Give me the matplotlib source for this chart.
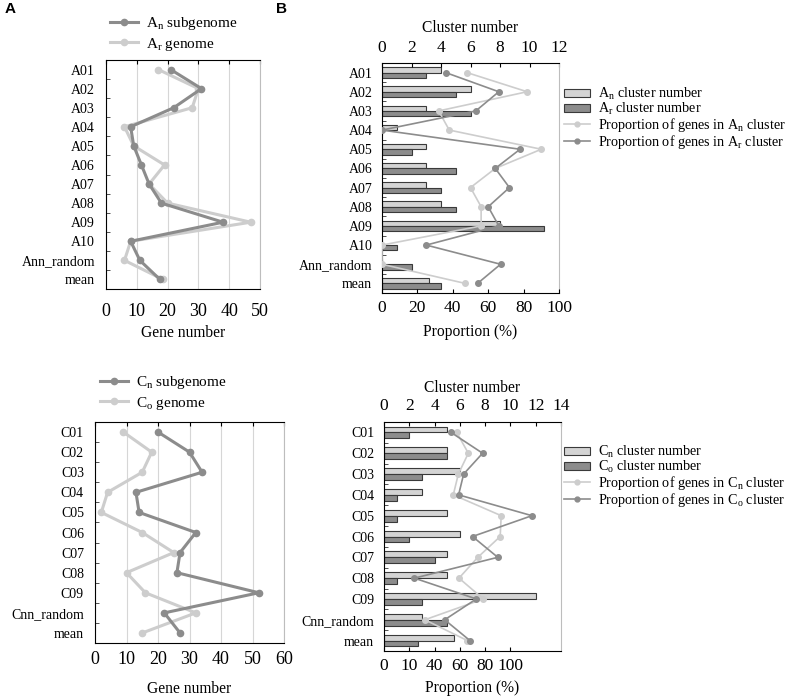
import numpy as np
import matplotlib
matplotlib.use('Agg')
import matplotlib.pyplot as plt
from matplotlib.patches import Patch
from matplotlib.lines import Line2D

plt.rcParams['font.family'] = ['Liberation Serif', 'DejaVu Serif']
plt.rcParams['mathtext.fontset'] = 'custom'
plt.rcParams['mathtext.rm'] = 'Liberation Serif'
plt.rcParams['mathtext.it'] = 'Liberation Serif:italic'

# ---- data ----
a_labels = ['A01', 'A02', 'A03', 'A04', 'A05', 'A06', 'A07', 'A08', 'A09', 'A10', 'Ann_random', 'mean']
an_genes = [21, 31, 22, 8, 9, 11.5, 14, 18, 38, 8, 11, 17.5]
ar_genes = [17, 30, 28, 6, 9, 19, 14, 20, 47, 8, 6, 18.5]
an_clusters = [4, 6, 3, 1, 3, 3, 3, 4, 8, 0, 0, 3.2]
ar_clusters = [3, 5, 6, 0, 2, 5, 4, 5, 11, 1, 2, 4]
an_prop = [48, 82, 32, 38, 90, 64, 50, 56, 56, 0, 0, 47]
ar_prop = [36, 66, 53, 0, 78, 64, 72, 60, 66, 25, 67, 54]

c_labels = ['C01', 'C02', 'C03', 'C04', 'C05', 'C06', 'C07', 'C08', 'C09', 'Cnn_random', 'mean']
cn_genes = [20, 30, 34, 13, 14, 32, 27, 26, 52, 22, 27]
co_genes = [9, 18, 15, 4, 2, 15, 25, 10, 16, 32, 15]
cn_clusters = [5, 5, 6, 3, 5, 6, 5, 5, 12, 3, 5.5]
co_clusters = [2, 5, 3, 1, 1, 2, 4, 1, 3, 5, 2.7]
cn_prop = [57.5, 66.7, 58.8, 54.8, 92.7, 91.9, 74.2, 59.3, 78.6, 32.3, 66]
co_prop = [53, 78, 63, 59, 117, 70, 90, 24, 73, 48, 68]

DARK = '#8c8c8c'
LIGHT = '#cdcdcd'
BAR_LIGHT = '#d4d4d4'
BAR_DARK = '#8c8c8c'
EDGE = '#3a3a3a'
GRAYSPINE = '#bdbdbd'

W, H = 793, 698
fig = plt.figure(figsize=(W / 100, H / 100), dpi=100)


def rect(x0, y0, x1, y1):
    return [x0 / W, 1 - y1 / H, (x1 - x0) / W, (y1 - y0) / H]


def cat_axis(ax, labels, pad):
    n = len(labels)
    y = np.arange(n)
    ax.set_ylim(n - 0.5, -0.5)
    ax.set_yticks(y)
    ax.set_yticklabels(labels, fontsize=10)
    ax.set_yticks(np.arange(0.5, n - 1, 1), minor=True)
    ax.tick_params(axis='y', which='major', length=0, pad=pad)
    ax.tick_params(axis='y', which='minor', length=3, direction='in', color='#333333')
    ax.spines['right'].set_color(GRAYSPINE)
    return y


def gene_panel(r, labels, dark, light, dark_lab, light_lab, xmax, tpad, lpad, leg_xy):
    ax = fig.add_axes(r)
    y = cat_axis(ax, labels, 8)
    ax.plot(light, y, '-o', color=LIGHT, lw=2.2, ms=4.5, zorder=3)
    ax.plot(dark, y, '-o', color=DARK, lw=2.2, ms=4.5, zorder=4)
    ax.set_xlim(0, xmax)
    ax.set_xticks(np.arange(0, xmax + 1, 10))
    ax.xaxis.grid(True, color='#d6d6d6', lw=0.8)
    ax.set_axisbelow(True)
    ax.tick_params(axis='x', direction='in', top=True, bottom=False, length=3,
                   labelsize=13, pad=tpad)
    ax.set_xlabel('Gene number', fontsize=11.2, labelpad=lpad)
    handles = [Line2D([], [], color=DARK, lw=2.2, marker='o', ms=4.5),
               Line2D([], [], color=LIGHT, lw=2.2, marker='o', ms=4.5)]
    fig.legend(handles, [dark_lab, light_lab], loc='upper left',
               bbox_to_anchor=(leg_xy[0] / W, 1 - leg_xy[1] / H), frameon=False,
               fontsize=11, handlelength=1.8, handletextpad=0.55, labelspacing=0.25,
               borderpad=0, borderaxespad=0)
    return ax


def cluster_panel(r, labels, c_light, c_dark, p_light, p_dark, cmax, pmax, pticks, plabels,
                  leg_labels, leg_xy, tpad, tlpad, bpad, blpad):
    ax = fig.add_axes(r)
    y = cat_axis(ax, labels, 7)
    h = 0.28
    ax.barh(y - h / 2, c_light, height=h, color=BAR_LIGHT, edgecolor=EDGE, lw=0.8)
    ax.barh(y + h / 2, c_dark, height=h, color=BAR_DARK, edgecolor=EDGE, lw=0.8)

    axp = ax.twiny()
    axp.plot(p_light, y, '-o', color=LIGHT, lw=1.2, ms=4, zorder=3)
    axp.plot(p_dark, y, '-o', color=DARK, lw=1.2, ms=4, zorder=4)
    axp.set_xlim(0, pmax)
    axp.xaxis.set_ticks_position('bottom')
    axp.xaxis.set_label_position('bottom')
    axp.set_xticks(pticks)
    axp.set_xticklabels(plabels)
    axp.tick_params(axis='x', direction='in', length=3, labelsize=12.5, pad=bpad)
    axp.set_xlabel('Proportion (%)', fontsize=11.2, labelpad=blpad)
    for s in axp.spines.values():
        s.set_visible(False)

    # cluster axis on top (set after twiny, which resets it)
    ax.set_xlim(0, cmax)
    ax.set_xticks(np.arange(0, cmax + 1, 2))
    ax.xaxis.set_ticks_position('top')
    ax.xaxis.set_label_position('top')
    ax.tick_params(axis='x', direction='in', length=3, labelsize=12.5, pad=tpad)
    ax.set_xlabel('Cluster number', fontsize=11.2, labelpad=tlpad)

    handles = [Patch(facecolor=BAR_LIGHT, edgecolor=EDGE, lw=0.8),
               Patch(facecolor=BAR_DARK, edgecolor=EDGE, lw=0.8),
               Line2D([], [], color=LIGHT, lw=1.2, marker='o', ms=3.5),
               Line2D([], [], color=DARK, lw=1.2, marker='o', ms=3.5)]
    fig.legend(handles, leg_labels, loc='upper left',
               bbox_to_anchor=(leg_xy[0] / W, 1 - leg_xy[1] / H), frameon=False,
               fontsize=10.2, handlelength=1.8, handleheight=0.5, handletextpad=0.6,
               labelspacing=-0.08, borderpad=0, borderaxespad=0)
    return ax


# ---- A / B top row ----
gene_panel(rect(106, 60, 260, 289), a_labels, an_genes, ar_genes,
           r'A$_{\mathrm{n}}$ subgenome', r'A$_{\mathrm{r}}$ genome', 50,
           tpad=10, lpad=4, leg_xy=(110, 15))

cluster_panel(rect(382, 63, 559, 293), a_labels, an_clusters, ar_clusters, an_prop, ar_prop,
              12, 100, [0, 20, 40, 60, 80, 100], ['0', '20', '40', '60', '80', '100'],
              [r'A$_{\mathrm{n}}$ cluster number', r'A$_{\mathrm{r}}$ cluster number',
               r'Proportion of genes in A$_{\mathrm{n}}$ cluster',
               r'Proportion of genes in A$_{\mathrm{r}}$ cluster'],
              leg_xy=(564, 86), tpad=5, tlpad=6, bpad=5, blpad=6)

# ---- bottom row ----
gene_panel(rect(95, 422, 284, 643), c_labels, cn_genes, co_genes,
           r'C$_{\mathrm{n}}$ subgenome', r'C$_{\mathrm{o}}$ genome', 60,
           tpad=6, lpad=9, leg_xy=(100, 374))

cluster_panel(rect(384, 422, 561, 651), c_labels, cn_clusters, co_clusters, cn_prop, co_prop,
              14, 140, [0, 20, 40, 60, 80, 100], ['0', '10', '40', '60', '80', '100'],
              [r'C$_{\mathrm{n}}$ cluster number', r'C$_{\mathrm{o}}$ cluster number',
               r'Proportion of genes in C$_{\mathrm{n}}$ cluster',
               r'Proportion of genes in C$_{\mathrm{o}}$ cluster'],
              leg_xy=(564, 444), tpad=6, tlpad=4, bpad=5, blpad=4)

fig.text(5 / W, 1 - 2 / H, 'A', family=['Liberation Sans', 'DejaVu Sans'], weight='bold',
         fontsize=11, va='top', ha='left')
fig.text(276 / W, 1 - 2 / H, 'B', family=['Liberation Sans', 'DejaVu Sans'], weight='bold',
         fontsize=11, va='top', ha='left')

fig.savefig('out.png', dpi=100)
